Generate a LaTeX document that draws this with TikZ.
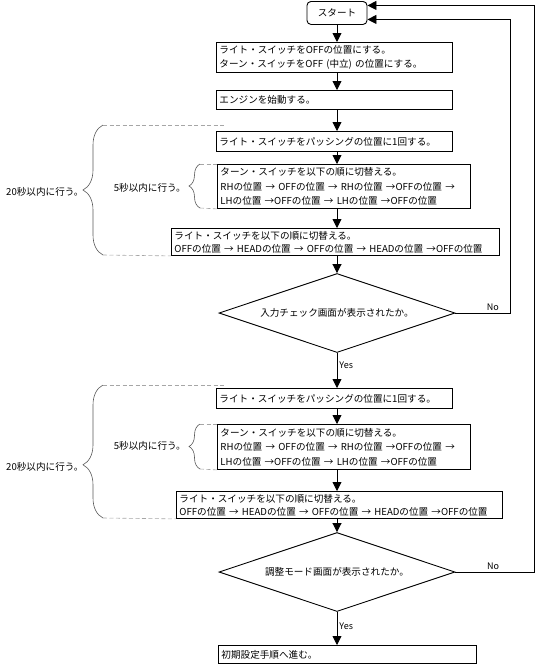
\documentclass[tikz,border=0pt]{standalone}
\usepackage{fontspec}
\setmainfont{Noto Sans CJK JP}
\usetikzlibrary{arrows.meta,shapes.geometric,calc,decorations.pathreplacing}

\tikzset{
  stepbox/.style={draw, line width=0.9pt, anchor=north west, align=left,
    inner xsep=3pt, inner ysep=1.5pt, font=\fontsize{9.6}{14.5}\selectfont},
  checkbox/.style={draw, diamond, line width=0.9pt, aspect=3, inner sep=0pt,
    minimum width=236pt, minimum height=79pt, font=\fontsize{9.6}{11}\selectfont},
  arr/.style={line width=0.9pt, -{Triangle[length=9pt,width=9pt]}},
  yesno/.style={font=\fontsize{9}{10}\selectfont, inner sep=2pt},
  bracepath/.style={black!65, line width=0.6pt, decorate},
  dashline/.style={black!35, line width=0.6pt, dash pattern=on 4pt off 2.5pt},
  timenote/.style={font=\fontsize{9.6}{11}\selectfont, inner sep=0pt},
}

\begin{document}
\begin{tikzpicture}[x=1pt,y=-1pt]
\useasboundingbox (0,0) rectangle (535,665);

% ===== Start and first round =====
\node[stepbox, anchor=north, align=center, rounded corners=4pt,
  minimum width=60pt, minimum height=23pt] (start) at (337,1) {スタート};
\node[stepbox, text width=230pt, minimum height=30pt] (b1) at (216,42)
  {ライト・スイッチをOFFの位置にする。\\ターン・スイッチをOFF (中立) の位置にする。};
\node[stepbox, text width=230pt, minimum height=19pt] (b2) at (216,90) {エンジンを始動する。};
\node[stepbox, text width=230pt, minimum height=20pt] (b3) at (216,131)
  {ライト・スイッチをパッシングの位置に1回する。};
\node[stepbox, text width=247pt, minimum height=44pt] (b4) at (217,164)
  {ターン・スイッチを以下の順に切替える。\\
   RHの位置 → OFFの位置 → RHの位置 →OFFの位置 →\\
   LHの位置 →OFFの位置 → LHの位置 →OFFの位置};
\node[stepbox, text width=322pt, minimum height=27pt, font=\fontsize{9.6}{13}\selectfont] (b5) at (171,228)
  {ライト・スイッチを以下の順に切替える。\\
   OFFの位置 → HEADの位置 → OFFの位置 → HEADの位置 →OFFの位置};
\node[checkbox] (d1) at (337,313) {入力チェック画面が表示されたか。};

% ===== Second round =====
\node[stepbox, text width=230pt, minimum height=20pt] (b6) at (216,388)
  {ライト・スイッチをパッシングの位置に1回する。};
\node[stepbox, text width=247pt, minimum height=45pt] (b7) at (217,424)
  {ターン・スイッチを以下の順に切替える。\\
   RHの位置 → OFFの位置 → RHの位置 →OFFの位置 →\\
   LHの位置 →OFFの位置 → LHの位置 →OFFの位置};
\node[stepbox, text width=320pt, minimum height=27pt, font=\fontsize{9.6}{13}\selectfont] (b8) at (176,491)
  {ライト・スイッチを以下の順に切替える。\\
   OFFの位置 → HEADの位置 → OFFの位置 → HEADの位置 →OFFの位置};
\node[checkbox] (d2) at (337,572) {調整モード画面が表示されたか。};
\node[stepbox, text width=252pt, minimum height=18pt] (b9) at (218,645) {初期設定手順へ進む。};

% ===== Main flow =====
\foreach \a/\b in {start/b1, b1/b2, b2/b3, b3/b4, b4/b5, b5/d1, b6/b7, b7/b8, b8/d2} {
  \draw[arr] (\a.south -| start) -- (start |- \b.north);
}
\draw[arr] (d1.south) -- node[yesno, right, pos=0.36] {Yes} (start |- b6.north);
\draw[arr] (d2.south) -- node[yesno, right, pos=0.42] {Yes} (start |- b9.north);

% ===== No loops back to start =====
\coordinate (in1) at ($(start.east)+(0,6.5)$);
\coordinate (in2) at ($(start.east)+(0,-7.5)$);
\coordinate (fb1) at ($(d1.east)+(55,0)$);
\coordinate (fb2) at ($(d2.east)+(78.5,0)$);
\draw[arr] (d1.east) -- node[yesno, above, pos=0.68] {No} (fb1) |- (in1);
\draw[arr] (d2.east) -- node[yesno, above, pos=0.48] {No} (fb2) |- (in2);

% ===== Time limits, first round =====
\coordinate (ta1) at (103,125);
\coordinate (tb1) at (103,255);
\coordinate (sa1) at (200,164);
\coordinate (sb1) at (200,208);
\draw[bracepath, decoration={brace, amplitude=20pt}] (tb1) -- (ta1);
\draw[bracepath, decoration={brace, amplitude=11pt}] (sb1) -- (sa1);
\draw[dashline] (ta1) -- ($(b3.north west)+(9,-6)$);
\draw[dashline] (tb1) -- (b5.south west);
\draw[dashline] (sa1) -- (b4.north west);
\draw[dashline] (sb1) -- (b4.south west);
\node[timenote, anchor=west] (n20a) at (6,192) {20秒以内に行う。};
\node[timenote, anchor=east] (n5a) at (186,188) {5秒以内に行う。};

% ===== Time limits, second round =====
\coordinate (ta2) at (103,385);
\coordinate (tb2) at (103,518);
\coordinate (sa2) at (200,424);
\coordinate (sb2) at (200,469);
\draw[bracepath, decoration={brace, amplitude=20pt, aspect=0.4}] (tb2) -- (ta2);
\draw[bracepath, decoration={brace, amplitude=11pt}] (sb2) -- (sa2);
\draw[dashline] (ta2) -- ($(b6.north west)+(9,-3)$);
\draw[dashline] (tb2) -- (b8.south west);
\draw[dashline] (sa2) -- (b7.north west);
\draw[dashline] (sb2) -- (b7.south west);
\node[timenote, anchor=west] (n20b) at (6,467) {20秒以内に行う。};
\node[timenote, anchor=east] (n5b) at (186,446) {5秒以内に行う。};

\end{tikzpicture}
\end{document}
